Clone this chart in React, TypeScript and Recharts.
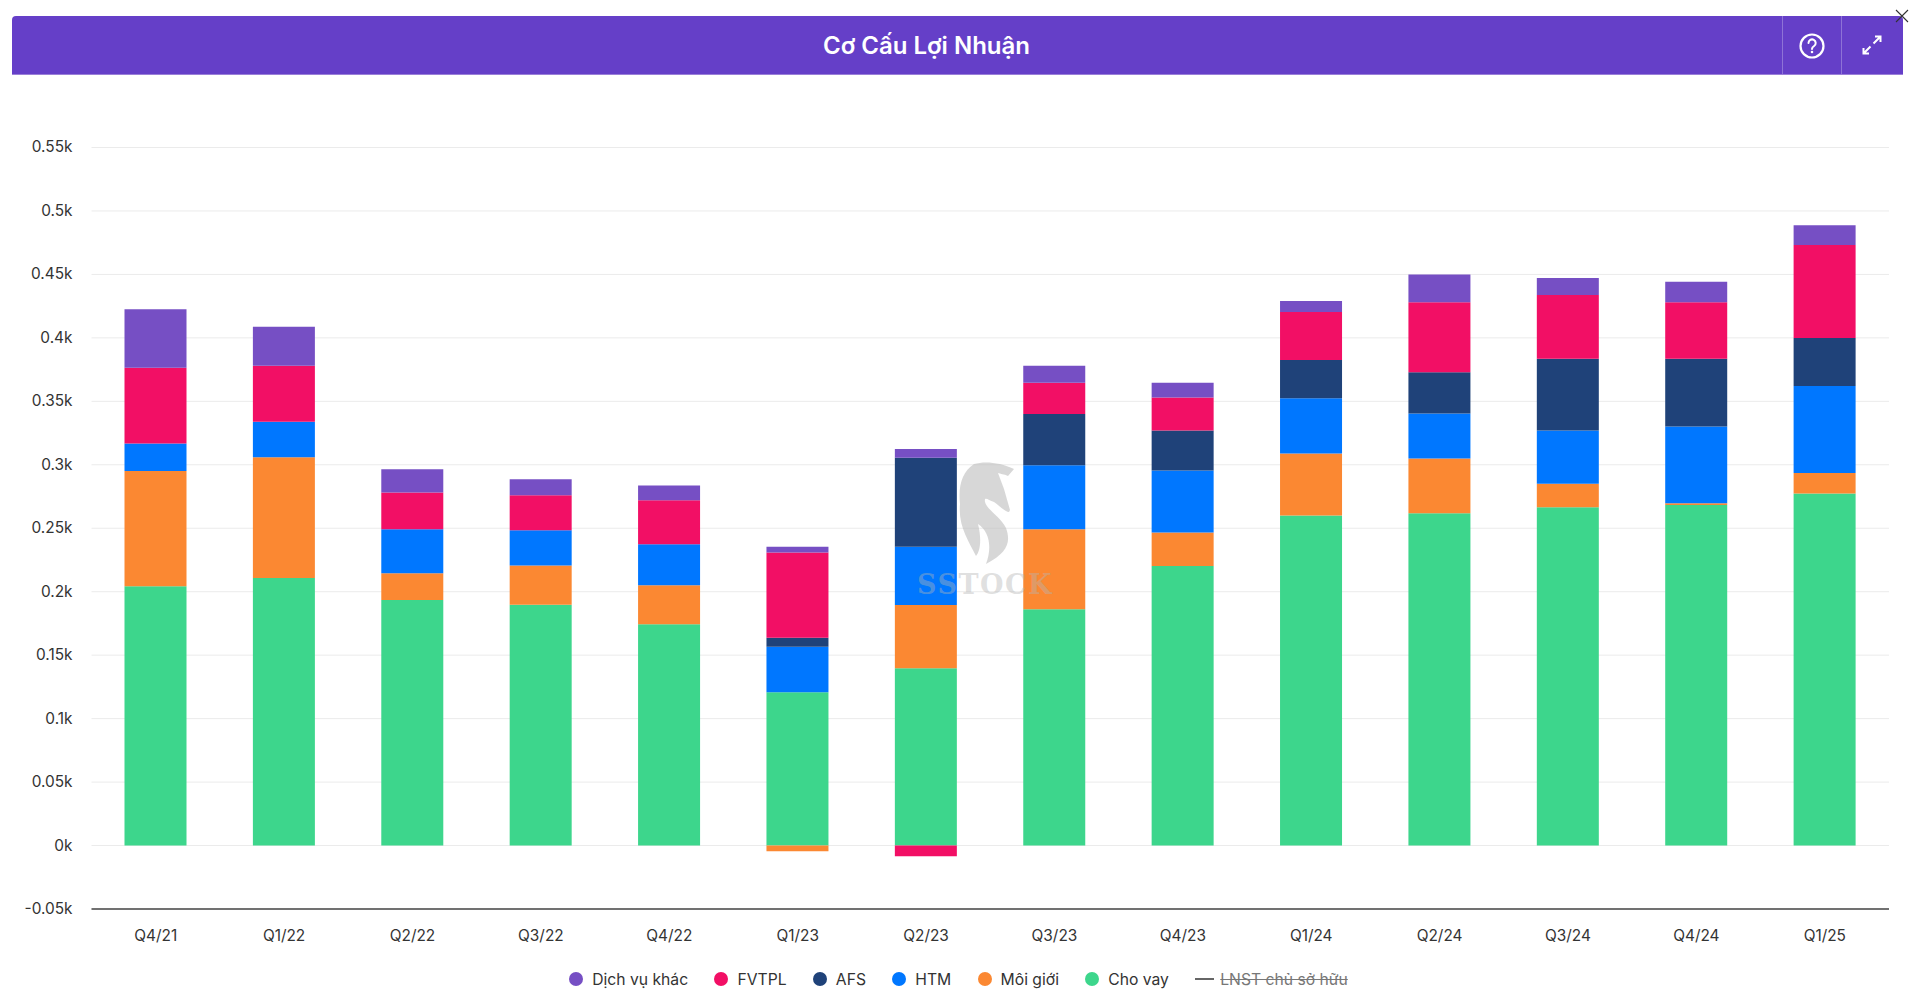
import React from 'react';
import { Bar, BarChart, CartesianGrid, Legend, XAxis, YAxis } from 'recharts';

const quarters = ['Q4/21', 'Q1/22', 'Q2/22', 'Q3/22', 'Q4/22', 'Q1/23', 'Q2/23', 'Q3/23', 'Q4/23', 'Q1/24', 'Q2/24', 'Q3/24', 'Q4/24', 'Q1/25'];
const choVay = [204.3, 210.8, 193.5, 189.8, 174.3, 120.7, 139.6, 186.1, 220.3, 260, 261.8, 266.6, 268.4, 277.4];
const moiGioi = [90.9, 95.2, 21, 30.8, 30.7, -4.5, 49.9, 63.1, 26.3, 48.9, 43.2, 18.4, 1.3, 16.2];
const htm = [21.6, 27.9, 34.7, 27.8, 32.4, 36, 46, 50.5, 48.9, 43.6, 35.4, 42, 60.5, 68.4];
const afs = [0, 0, 0, 0, 0, 7.1, 70, 40.4, 31.5, 30, 32.6, 56.5, 53.3, 38];
const fvtpl = [59.6, 44.1, 28.9, 27.6, 34.6, 67, -8.4, 24.5, 26, 37.8, 55, 50.3, 44.5, 73.2];
const dichVuKhac = [46.1, 30.8, 18.4, 12.6, 11.6, 4.7, 7, 13.4, 11.6, 8.7, 22, 13.4, 16.3, 15.5];
const yTicks = [-50, 0, 50, 100, 150, 200, 250, 300, 350, 400, 450, 500, 550];

const FONT = 'Inter, sans-serif';

const data = quarters.map((q, i) => ({
  q,
  choVay: choVay[i],
  moiGioi: moiGioi[i],
  htm: htm[i],
  afs: afs[i],
  fvtpl: fvtpl[i],
  dichVuKhac: dichVuKhac[i],
}));

// bottom of the stack first
const series = [
  { key: 'choVay', name: 'Cho vay', color: '#3DD68C' },
  { key: 'moiGioi', name: 'Môi giới', color: '#FB8832' },
  { key: 'htm', name: 'HTM', color: '#0077FF' },
  { key: 'afs', name: 'AFS', color: '#1F4279' },
  { key: 'fvtpl', name: 'FVTPL', color: '#F20F65' },
  { key: 'dichVuKhac', name: 'Dịch vụ khác', color: '#764FC4' },
];

const ChartLegend = () => (
  <div style={{ display: 'flex', justifyContent: 'center', alignItems: 'center', fontFamily: FONT, fontSize: 15.7, color: '#333', height: 24, marginTop: 18, marginLeft: -3 }}>
    {[...series].reverse().map((s) => (
      <span key={s.key} style={{ display: 'flex', alignItems: 'center', marginRight: 26.3 }}>
        <span style={{ width: 14, height: 14, borderRadius: '50%', background: s.color, marginRight: 9 }} />
        {s.name}
      </span>
    ))}
    <span style={{ display: 'flex', alignItems: 'center', color: '#777' }}>
      <span style={{ width: 19, height: 2, background: '#666', marginRight: 6 }} />
      <span style={{ textDecoration: 'line-through' }}>LNST chủ sở hữu</span>
    </span>
  </div>
);

const Header = () => (
  <div style={{ position: 'absolute', left: 12, top: 16, width: 1891, height: 59, background: '#653FC8', borderRadius: '4px 4px 0 0', borderBottom: '1px solid #9A7FD8', boxSizing: 'border-box' }}>
    <div style={{ position: 'absolute', left: 0, width: 1829, top: 0, height: 58, lineHeight: '60px', textAlign: 'center', color: '#fff', fontFamily: FONT, fontWeight: 600, fontSize: 24 }}>
      Cơ Cấu Lợi Nhuận
    </div>
    <div style={{ position: 'absolute', left: 1770, top: 0, width: 1, height: 58, background: '#8E73D6' }} />
    <div style={{ position: 'absolute', left: 1829, top: 0, width: 1, height: 58, background: '#8E73D6' }} />
    <svg style={{ position: 'absolute', left: 1785, top: 15 }} width={30} height={30} viewBox="0 0 30 30" fill="none" stroke="#fff" strokeWidth={2.2} strokeLinecap="round">
      <circle cx={15} cy={15} r={11.5} />
      <path d="M11.5 12 a3.6 3.6 0 1 1 5.6 3 c-1.3 .9 -2.1 1.5 -2.1 3" strokeWidth={2} />
      <circle cx={15} cy={21} r={0.6} strokeWidth={1.4} />
    </svg>
    <svg style={{ position: 'absolute', left: 1848, top: 17 }} width={24} height={24} viewBox="0 0 24 24" fill="none" stroke="#fff" strokeWidth={2}>
      <path d="M13.5 10.5 L20 4 M15 3.5 H20.5 V9" />
      <path d="M10.5 13.5 L4 20 M3.5 15 V20.5 H9" />
    </svg>
  </div>
);

const Watermark = () => (
  <svg style={{ position: 'absolute', left: 900, top: 440, pointerEvents: 'none' }} width={180} height={170} viewBox="0 0 180 170">
    <path
      d="M74 24 C84 21 100 22 114 29 L108 36 C104 34 100 34 98 33 L104 49 L110 70 L109 72 C105 72 100 66 94 62 C88 60 84 56 85 62 C87 70 100 76 106 88 C111 102 108 112 86 124 C92 108 90 92 78 84 C82 100 80 112 76 116 C68 100 58 86 60 64 C58 46 62 32 74 24 Z"
      fill="#BDBDBD"
      fillOpacity={0.6}
    />
    <text x={85} y={154} textAnchor="middle" fontFamily="'DejaVu Serif', serif" fontWeight={700} fontSize={27} letterSpacing={1.5} fill="#B5B5B5" fillOpacity={0.42}>
      SSTOCK
    </text>
  </svg>
);

const App = () => (
  <div style={{ position: 'absolute', left: 0, top: 0, width: 1920, height: 998, background: '#fff', overflow: 'hidden' }}>
    <BarChart
      width={1920}
      height={998}
      data={data}
      stackOffset="sign"
      barSize={62}
      margin={{ top: 147.5, right: 31, bottom: 0, left: 0 }}
    >
      <CartesianGrid vertical={false} stroke="#EBEBEB" />
      <XAxis
        dataKey="q"
        axisLine={{ stroke: '#444', strokeWidth: 1.5 }}
        tickLine={false}
        height={40}
        tick={{ fontFamily: FONT, fontSize: 15.4, fill: '#333' }}
        tickMargin={15}
        interval={0}
      />
      <YAxis
        type="number"
        domain={[-50, 550]}
        ticks={yTicks}
        width={91.5}
        axisLine={false}
        tickLine={false}
        tickMargin={13}
        tickFormatter={(v: number) => `${v / 1000}k`}
        tick={{ fontFamily: FONT, fontSize: 15.4, fill: '#333', dy: -0.5 }}
      />
      <Legend verticalAlign="bottom" height={49} wrapperStyle={{ left: 0, width: 1920 }} content={() => <ChartLegend />} />
      {series.map((s) => (
        <Bar key={s.key} dataKey={s.key} name={s.name} stackId="a" fill={s.color} isAnimationActive={false} />
      ))}
    </BarChart>
    <Header />
    <svg style={{ position: 'absolute', left: 1895, top: 9 }} width={14} height={14} viewBox="0 0 14 14" stroke="#333" strokeWidth={1.1}>
      <path d="M1 1 L13 13 M13 1 L1 13" />
    </svg>
    <Watermark />
  </div>
);

export default App;
